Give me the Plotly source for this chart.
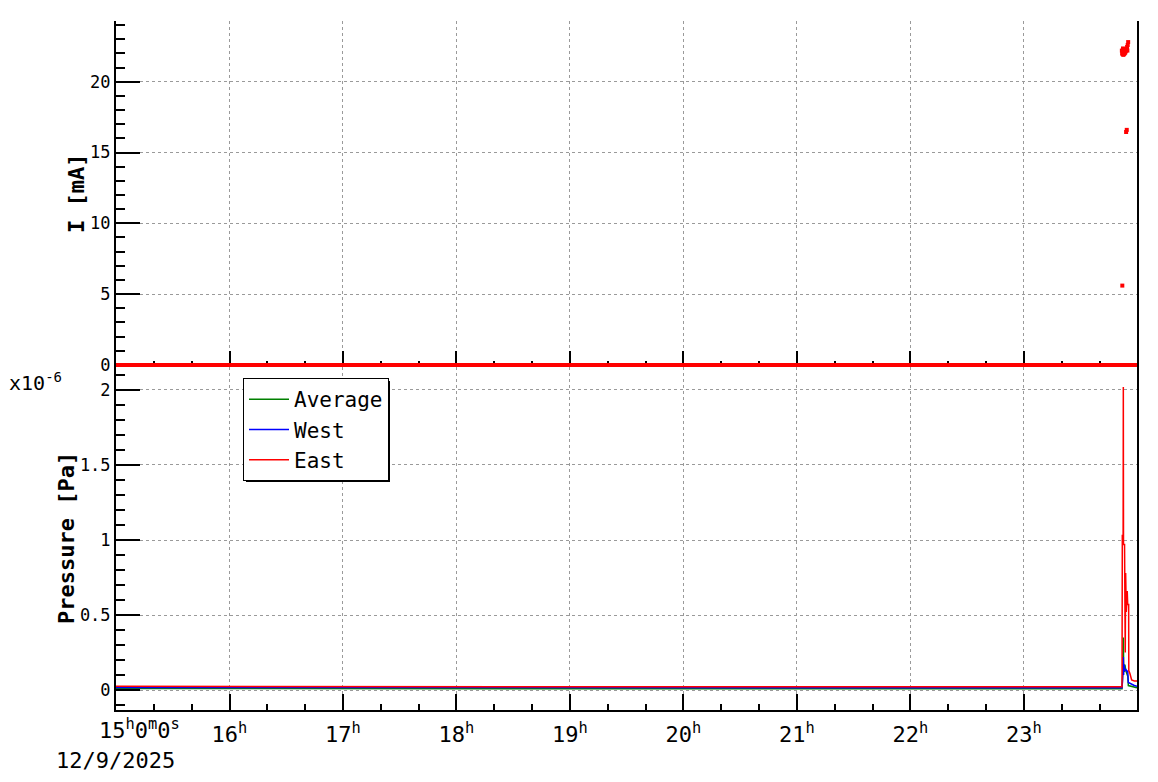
import plotly.graph_objects as go

# ---------------- data ----------------
D = "2025-12-09 "
x_start = D + "15:00:00"
x_end = D + "23:59:45"

hour_ticks = [D + f"{h}:00:00" for h in range(16, 24)]
hour_labels = [f"{h}<sup>h</sup>" for h in range(16, 24)]

# beam current [mA]
current_zero_times = [D + "15:00:00", D + "23:59:45"]
current_zero_ma = [0.0, 0.0]
current_times = [D + "23:51:59", D + "23:54:00", D + "23:54:20",
                 D + "23:51:45", D + "23:51:55", D + "23:52:10", D + "23:52:30",
                 D + "23:52:50", D + "23:53:10", D + "23:53:30", D + "23:53:50",
                 D + "23:54:10", D + "23:54:30", D + "23:54:50", D + "23:55:05",
                 D + "23:53:00", D + "23:52:20", D + "23:54:40"]
current_ma = [5.6, 16.45, 16.6,
              22.2, 22.0, 21.95, 21.9, 21.95, 22.0, 22.05, 22.15,
              22.3, 22.45, 22.6, 22.8,
              22.3, 22.35, 22.2]

# pressure [x1e-6 Pa]
east_times = [D + t for t in ["15:00:00", "16:00:00", "17:00:00", "18:00:00", "19:00:00",
                              "20:00:00", "21:00:00", "22:00:00", "23:00:00", "23:51:50",
                              "23:51:59", "23:52:25", "23:52:31", "23:52:37", "23:53:10",
                              "23:53:15", "23:53:28", "23:53:32", "23:53:45", "23:53:50",
                              "23:54:05", "23:54:35", "23:54:50", "23:55:20", "23:55:25",
                              "23:56:00", "23:56:55", "23:58:20", "23:59:45"]]
east_pa = [0.025, 0.023, 0.022, 0.022, 0.022, 0.022, 0.022, 0.022, 0.022, 0.022,
           1.03, 1.03, 2.02, 0.97, 0.97,
           0.78, 0.78, 0.25, 0.78, 0.62,
           0.52, 0.66, 0.57, 0.57, 0.13,
           0.11, 0.067, 0.06, 0.06]

west_times = [D + t for t in ["15:00:00", "16:00:00", "17:00:00", "18:00:00", "19:00:00",
                              "20:00:00", "21:00:00", "22:00:00", "23:00:00", "23:51:50",
                              "23:52:05", "23:52:31", "23:52:40", "23:52:55", "23:53:20",
                              "23:53:50", "23:54:20", "23:54:50", "23:55:10", "23:56:30",
                              "23:58:20", "23:59:45"]]
west_pa = [0.017, 0.016, 0.016, 0.016, 0.016, 0.016, 0.016, 0.016, 0.016, 0.016,
           0.06, 0.22, 0.10, 0.17, 0.13,
           0.14, 0.12, 0.13, 0.05, 0.04,
           0.03, 0.025]

avg_times = [D + t for t in ["15:00:00", "16:00:00", "17:00:00", "18:00:00", "19:00:00",
                             "20:00:00", "21:00:00", "22:00:00", "23:00:00", "23:51:50",
                             "23:52:10", "23:52:31", "23:52:40", "23:53:00", "23:53:20",
                             "23:53:50", "23:54:30", "23:54:55", "23:55:10", "23:56:30",
                             "23:59:45"]]
avg_pa = [0.010, 0.009, 0.009, 0.009, 0.009, 0.009, 0.009, 0.009, 0.009, 0.009,
          0.10, 0.35, 0.18, 0.12, 0.17,
          0.13, 0.10, 0.09, 0.03, 0.025,
          0.015]

# ---------------- layout geometry (page pixel coords, body margin 8px) ----------------
OFF = 8
W, H = 1158 - 2 * OFF, 782 - 2 * OFF
PL, PR, PT, PB = 116, 1137, 21, 710          # plot area in page pixels
L, R, T, B = PL - OFF, W - (PR - OFF), PT - OFF, H - (PB - OFF)
plot_w = PR - PL
plot_h = PB - PT
split_px = 367
dom_split = (PB - split_px) / plot_h


def px_x(p):
    return (p - PL) / plot_w


def px_y(p):
    return (PB - p) / plot_h


FONT = "DejaVu Sans Mono"
GRID = dict(showgrid=True, griddash="dot", gridcolor="#9a9a9a", gridwidth=1)

fig = go.Figure()

# top panel: current
fig.add_trace(go.Scatter(x=current_zero_times, y=current_zero_ma, mode="lines",
                         line=dict(color="#ff0000", width=4), showlegend=False,
                         xaxis="x", yaxis="y"))
fig.add_trace(go.Scatter(x=current_times, y=current_ma, mode="markers",
                         marker=dict(color="#ff0000", size=4, symbol="square"),
                         showlegend=False, xaxis="x", yaxis="y"))

# bottom panel: pressure
fig.add_trace(go.Scatter(x=avg_times, y=avg_pa, mode="lines", name="Average",
                         line=dict(color="#008000", width=1.5), xaxis="x2", yaxis="y2"))
fig.add_trace(go.Scatter(x=west_times, y=west_pa, mode="lines", name="West",
                         line=dict(color="#0000ff", width=1.5), xaxis="x2", yaxis="y2"))
fig.add_trace(go.Scatter(x=east_times, y=east_pa, mode="lines", name="East",
                         line=dict(color="#ff0000", width=1.5), xaxis="x2", yaxis="y2"))

xcommon = dict(type="date", range=[x_start, x_end], tickmode="array",
               tickvals=hour_ticks, ticktext=hour_labels,
               ticks="inside", ticklen=16, tickwidth=2, tickcolor="black",
               minor=dict(ticks="inside", ticklen=6, tickwidth=2, tickcolor="black",
                          dtick=20 * 60 * 1000, tick0=x_start, showgrid=False),
               linecolor="black", linewidth=2,
               zeroline=False, **GRID)

ycommon = dict(ticks="inside", ticklen=24, tickwidth=2, tickcolor="black",
               showline=True, linecolor="black", linewidth=2, mirror=True,
               zeroline=False, tickfont=dict(family=FONT, size=17, color="black"),
               **GRID)

fig.update_layout(
    width=W, height=H,
    margin=dict(l=L, r=R, t=T, b=B, pad=0, autoexpand=False),
    paper_bgcolor="white", plot_bgcolor="white",
    font=dict(family=FONT, color="black"),
    xaxis=dict(domain=[0, 1], anchor="y", showticklabels=False, showline=False,
               layer="below traces", **xcommon),
    xaxis3=dict(type="date", range=[x_start, x_end], overlaying="x", anchor="y",
                side="top", showline=True, linecolor="black", linewidth=2,
                showticklabels=False, ticks="", showgrid=False, zeroline=False),
    yaxis=dict(domain=[dom_split, 1], anchor="x", range=[-0.15, 24.29],
               tick0=0, dtick=5, layer="below traces",
               minor=dict(ticks="inside", ticklen=9, tickwidth=2, tickcolor="black",
                          dtick=1, tick0=0, showgrid=False),
               **ycommon),
    xaxis2=dict(domain=[0, 1], anchor="y2", matches="x", showticklabels=True,
                showline=True,
                tickfont=dict(family=FONT, size=22, color="black"),
                ticklabelstandoff=4,
                **xcommon),
    yaxis2=dict(domain=[0, dom_split], anchor="x2", range=[-0.133, 2.153],
                tick0=0, dtick=0.5,
                minor=dict(ticks="inside", ticklen=9, tickwidth=2, tickcolor="black",
                           dtick=0.1, tick0=0, showgrid=False),
                **ycommon),
    legend=dict(x=px_x(243), y=px_y(378), xanchor="left", yanchor="top",
                bgcolor="white", bordercolor="black", borderwidth=1,
                font=dict(family=FONT, size=21, color="black"),
                itemwidth=40, tracegroupgap=0),
    showlegend=True,
)

# legend shadow
fig.add_shape(type="rect", xref="paper", yref="paper",
              x0=px_x(246), x1=px_x(390), y0=px_y(482), y1=px_y(381),
              fillcolor="black", line=dict(width=0), layer="above")

ann = [
    dict(text="x10<sup>-6</sup>", x=px_x(7), y=px_y(382), xanchor="left", yanchor="middle",
         font=dict(size=20)),
    dict(text="<b>I [mA]</b>", x=px_x(76), y=px_y(194), textangle=-90,
         xanchor="center", yanchor="middle", font=dict(size=22)),
    dict(text="<b>Pressure [Pa]</b>", x=px_x(66), y=px_y(538), textangle=-90,
         xanchor="center", yanchor="middle", font=dict(size=22)),
    dict(text="15<sup>h</sup>0<sup>m</sup>0<sup>s</sup>", x=px_x(139), y=px_y(713),
         xanchor="center", yanchor="top", font=dict(size=22)),
    dict(text="12/9/2025", x=px_x(115), y=px_y(760), xanchor="center", yanchor="middle",
         font=dict(size=22)),
]
for a in ann:
    a.update(xref="paper", yref="paper", showarrow=False)
    a["font"].update(family=FONT, color="black")
fig.update_layout(annotations=ann)

fig.write_html("out.html")
